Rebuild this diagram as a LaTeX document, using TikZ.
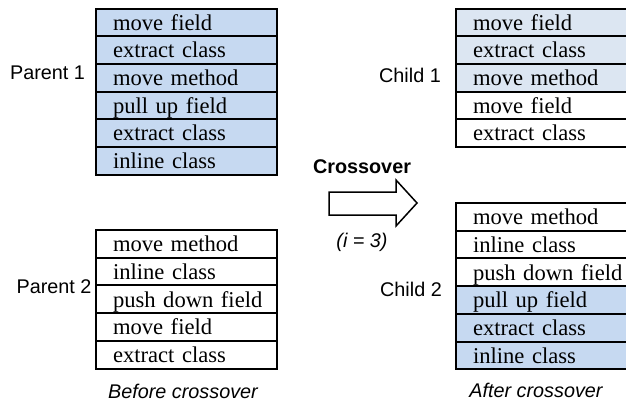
\documentclass[tikz,border=0pt]{standalone}
\usepackage{fontspec}
\setmainfont{Liberation Serif}
\setsansfont{Liberation Sans}
\usetikzlibrary{positioning}
\definecolor{geneblue}{RGB}{198,217,241}
\definecolor{genelight}{RGB}{220,230,242}
\tikzset{
  gene/.style={rectangle,draw,line width=1pt,outer sep=0pt,minimum width=90.5pt,minimum height=13.85pt,
    inner sep=0pt,text width=90.5pt,align=left,execute at begin node={\hspace*{8.5pt}},
    text height=8pt,text depth=0.2pt,font=\fontsize{11.3}{13}\selectfont},
  tag/.style={font=\sffamily\fontsize{9.9}{12}\selectfont}
}
\begin{document}
\begin{tikzpicture}[x=0.5pt,y=-0.5pt,node distance=0pt]
 \useasboundingbox (0,0) rectangle (626,407);
 % parent 1
 \node[gene,fill=geneblue,anchor=north west] (p1a) at (96,8.5) {move field};
 \node[gene,fill=geneblue,below=of p1a] (p1b) {extract class};
 \node[gene,fill=geneblue,below=of p1b] (p1c) {move method};
 \node[gene,fill=geneblue,below=of p1c] (p1d) {pull up field};
 \node[gene,fill=geneblue,below=of p1d] (p1e) {extract class};
 \node[gene,fill=geneblue,below=of p1e] (p1f) {inline class};
 % parent 2
 \node[gene,anchor=north west] (p2a) at (96,230) {move method};
 \node[gene,below=of p2a] (p2b) {inline class};
 \node[gene,below=of p2b] (p2c) {push down field};
 \node[gene,below=of p2c] (p2d) {move field};
 \node[gene,below=of p2d] (p2e) {extract class};
 % child 1
 \node[gene,fill=genelight,anchor=north west] (c1a) at (456,8.5) {move field};
 \node[gene,fill=genelight,below=of c1a] (c1b) {extract class};
 \node[gene,fill=genelight,below=of c1b] (c1c) {move method};
 \node[gene,below=of c1c] (c1d) {move field};
 \node[gene,below=of c1d] (c1e) {extract class};
 % child 2
 \node[gene,anchor=north west] (c2a) at (456,203) {move method};
 \node[gene,below=of c2a] (c2b) {inline class};
 \node[gene,below=of c2b] (c2c) {push down field};
 \node[gene,fill=geneblue,below=of c2c] (c2d) {pull up field};
 \node[gene,fill=geneblue,below=of c2d] (c2e) {extract class};
 \node[gene,fill=geneblue,below=of c2e] (c2f) {inline class};
 % labels
 \node[tag] (par1) at (47.5,73) {Parent 1};
 \node[tag] (par2) at (54,287) {Parent 2};
 \node[tag] (ch1) at (410,75) {Child 1};
 \node[tag] (ch2) at (411,289) {Child 2};
 \node[tag,font=\sffamily\itshape\fontsize{9.9}{12}\selectfont] (before) at (183,391) {Before crossover};
 \node[tag,font=\sffamily\itshape\fontsize{9.9}{12}\selectfont] (after) at (536,390) {After crossover};
 % crossover arrow
 \draw[line width=0.75pt,fill=white] (329,192) -- (396,192) -- (396,180) -- (417,203)
   -- (396,226) -- (396,215) -- (329,215) -- cycle;
 \node[tag,font=\sffamily\bfseries\fontsize{9.9}{12}\selectfont] (xo) at (362,167) {Crossover};
 \node[tag,font=\sffamily\itshape\fontsize{9.9}{12}\selectfont] (cut) at (362,242) {(i = 3)};
\end{tikzpicture}
\end{document}
